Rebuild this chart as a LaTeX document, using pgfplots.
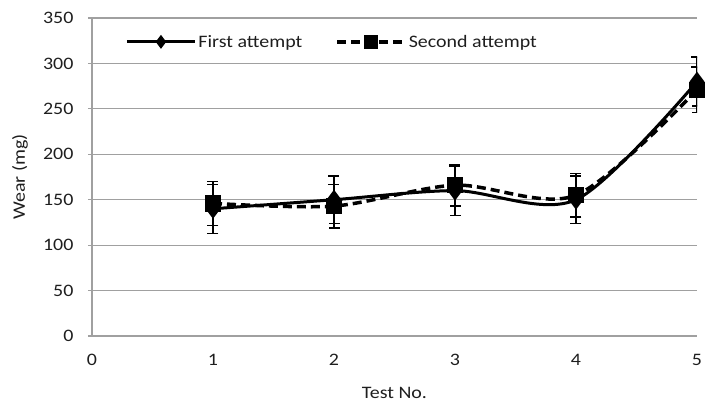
\documentclass[border=0pt]{standalone}
\usepackage{fontspec}
\setmainfont[FakeStretch=1.14]{Carlito}
\usepackage{pgfplots}
\pgfplotsset{compat=1.18}
\definecolor{gridgray}{HTML}{A0A0A0}
\definecolor{txt}{HTML}{1E1E1E}
\pgfplotsset{
  legdia/.style={legend image code/.code={\draw[mark repeat=2,mark phase=2,##1,mark size=4.5pt]
    plot coordinates {(0pt,0pt)(34pt,0pt)(68pt,0pt)};}},
  legsq/.style={legend image code/.code={\draw[mark repeat=2,mark phase=2,##1,mark size=5.5pt]
    plot coordinates {(0pt,0pt)(34pt,0pt)(68pt,0pt)};}},
}

\begin{document}
\begin{tikzpicture}[font=\fontsize{17.5}{21}\selectfont]
\path[use as bounding box] (0,0) rectangle (713pt,405pt);
\begin{axis}[
at={(92pt,69pt)},anchor=south west,
scale only axis,width=605pt,height=318pt,
xmin=0,xmax=5,ymin=0,ymax=350,
xtick={0,1,2,3,4,5},ytick={0,50,...,350},
axis x line*=bottom,axis y line*=left,
axis line style={gridgray,line width=1.2pt,-},
ymajorgrids=true,grid style={gridgray,line width=1.2pt},
x tick style={draw=none},
y tick style={gridgray,line width=1.2pt},
tick align=outside,major tick length=4pt,
/pgf/number format/assume math mode=true,
ticklabel style={text=txt},
xticklabel style={yshift=-11pt},
yticklabel style={xshift=-11pt},
xlabel={Test No.},ylabel={Wear (mg)},
every axis x label/.style={at={(axis description cs:0.5,-0.178)},anchor=center,text=txt},
every axis y label/.style={at={(axis description cs:-0.119,0.5)},anchor=center,rotate=90,text=txt},
legend columns=2,
legend style={at={(axis description cs:0.05,0.925)},anchor=west,draw=none,fill=none,text=txt,
  /tikz/every even column/.append style={column sep=31pt}},
error bars/error bar style={solid,black,line width=1.3pt},
error bars/error mark options={rotate=90,mark size=5.5pt,line width=1.3pt,black,solid},
]
\addplot[black,line width=3pt,smooth,mark=diamond*,mark size=7.5pt,mark options={solid},legdia,
  error bars/.cd,y dir=both,y explicit]
coordinates {(1,140) +- (0,27) (2,150) +- (0,26) (3,160) +- (0,27) (4,150) +- (0,26) (5,280) +- (0,27)};
\addlegendentry{First attempt}
\addplot[black,line width=3.5pt,smooth,dash pattern=on 9pt off 5pt,mark=square*,mark size=6.5pt,mark options={solid},legsq,
  error bars/.cd,y dir=both,y explicit]
coordinates {(1,146) +- (0,24) (2,143) +- (0,24) (3,166) +- (0,23) (4,155) +- (0,24) (5,271) +- (0,25)};
\addlegendentry{Second attempt}
\end{axis}
\end{tikzpicture}
\end{document}
